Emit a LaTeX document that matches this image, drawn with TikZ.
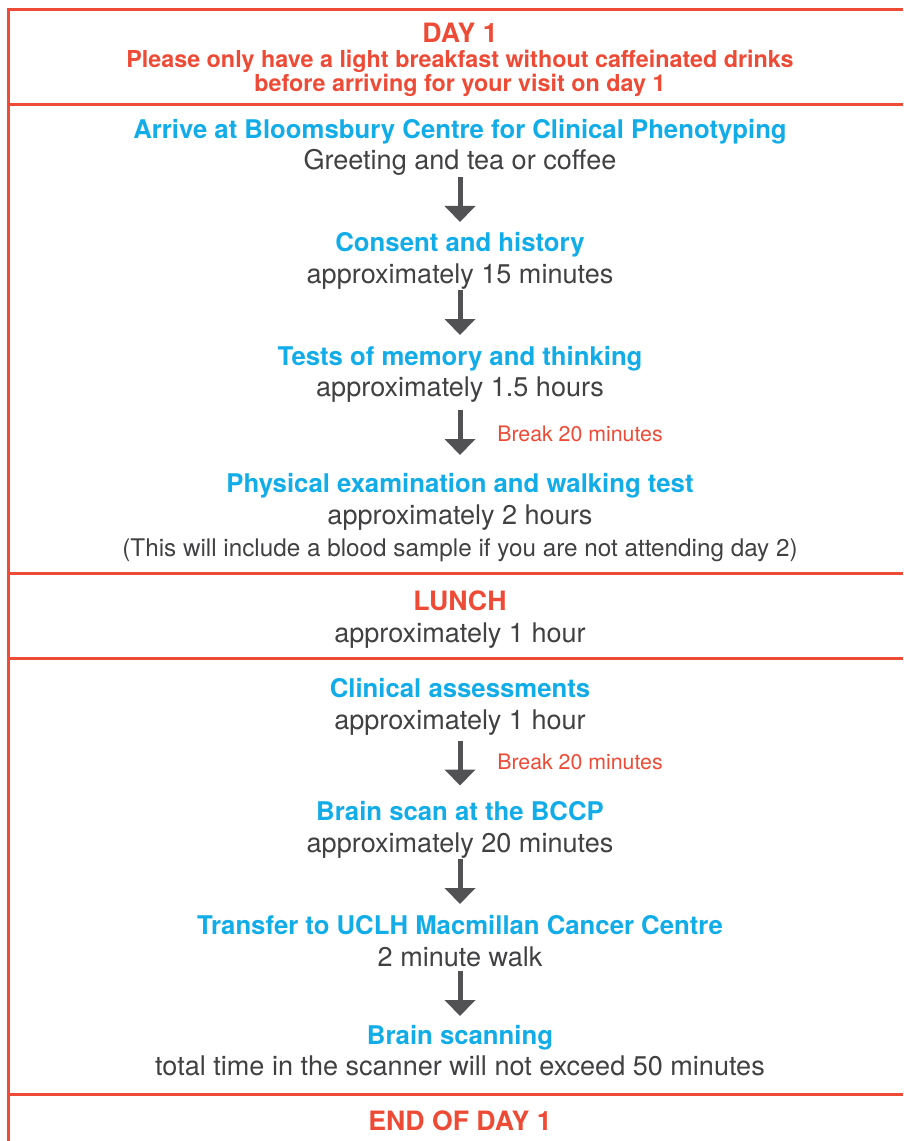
\documentclass[tikz,border=0pt]{standalone}
\usepackage{fontspec}
\setmainfont{TeX Gyre Heros}
\usetikzlibrary{calc,arrows.meta}
\definecolor{dayred}{HTML}{EE4B36}
\definecolor{stepblue}{HTML}{12ADE8}
\definecolor{textgrey}{HTML}{414042}
\definecolor{arrowgrey}{HTML}{525254}
\tikzset{
	stephead/.style={anchor=base, inner sep=0pt, text=stepblue, font=\fontsize{19.3}{22}\selectfont\bfseries},
	stepnote/.style={anchor=base, inner sep=0pt, text=textgrey, font=\fontsize{20.3}{23}\selectfont},
	daytitle/.style={anchor=base, inner sep=0pt, text=dayred, font=\fontsize{20}{23}\selectfont\bfseries},
	daynote/.style={anchor=base, inner sep=0pt, text=dayred, font=\fontsize{17.5}{20}\selectfont\bfseries},
	breaknote/.style={anchor=base west, inner sep=0pt, text=dayred, font=\fontsize{16}{19}\selectfont},
	smallnote/.style={anchor=base, inner sep=0pt, text=textgrey, font=\fontsize{18.2}{21}\selectfont},
	rule/.style={line width=2.25pt, draw=dayred},
	flow/.style={line width=3.75pt, draw=arrowgrey, -{Triangle[width=22.5pt,length=12pt]}}
}
\newcommand\steparrow[2]{\draw[flow] ($(#1.base)!.5!(#2.base)+(0,-34)$) -- ++(0,45);}

\begin{document}
\begin{tikzpicture}[x=0.75pt, y=-0.75pt]
	%%%%% START %%%%%
	\useasboundingbox (0,0) rectangle (903,1141);
	
	\draw[rule] (8,1141) -- (8,10) -- (903,10);
	\draw[rule] (8,105) -- (903,105);
	\draw[rule] (8,573) -- (903,573);
	\draw[rule] (8,658) -- (903,658);
	\draw[rule] (8,1094) -- (903,1094);
	
	\node[daytitle] (day) at (460,43) {DAY 1};
	\node[daynote] (light) at (460,68) {Please only have a light breakfast without caffeinated drinks};
	\node[daynote] (before) at (460,92) {before arriving for your visit on day 1};
	
	\node[stephead] (arrive) at (460,139) {Arrive at Bloomsbury Centre for Clinical Phenotyping};
	\node[stepnote] (greet) at (460,170) {Greeting and tea or coffee};
	
	\node[stephead] (consent) at (460,252) {Consent and history};
	\node[stepnote] (consenttime) at (460,283) {approximately 15 minutes};
	
	\node[stephead] (tests) at (460,365) {Tests of memory and thinking};
	\node[stepnote] (teststime) at (460,396) {approximately 1.5 hours};
	
	\node[stephead] (phys) at (460,492) {Physical examination and walking test};
	\node[stepnote] (phystime) at (460,524) {approximately 2 hours};
	\node[smallnote] (blood) at (460,556) {(This will include a blood sample if you are not attending day 2)};
	
	\steparrow{greet}{consent}
	\steparrow{consenttime}{tests}
	\steparrow{teststime}{phys}
	\node[breaknote] (breakone) at (497,441) {Break 20 minutes};
	
	\node[daytitle] (lunch) at (460,610) {LUNCH};
	\node[stepnote] (lunchtime) at (460,642) {approximately 1 hour};
	
	\node[stephead] (clinic) at (460,697) {Clinical assessments};
	\node[stepnote] (clinictime) at (460,729) {approximately 1 hour};
	
	\node[stephead] (bccp) at (460,820) {Brain scan at the BCCP};
	\node[stepnote] (bccptime) at (460,852) {approximately 20 minutes};
	
	\node[stephead] (transfer) at (460,934) {Transfer to UCLH Macmillan Cancer Centre};
	\node[stepnote] (walk) at (460,966) {2 minute walk};
	
	\node[stephead] (scanning) at (460,1044) {Brain scanning};
	\node[stepnote] (scantime) at (460,1075) {total time in the scanner will not exceed 50 minutes};
	
	\steparrow{clinictime}{bccp}
	\node[breaknote] (breaktwo) at (497,769) {Break 20 minutes};
	\steparrow{bccptime}{transfer}
	\steparrow{walk}{scanning}
	
	\node[daytitle] (endday) at (460,1130) {END OF DAY 1};
	
	%%%%% END %%%%%
\end{tikzpicture}
\end{document}
